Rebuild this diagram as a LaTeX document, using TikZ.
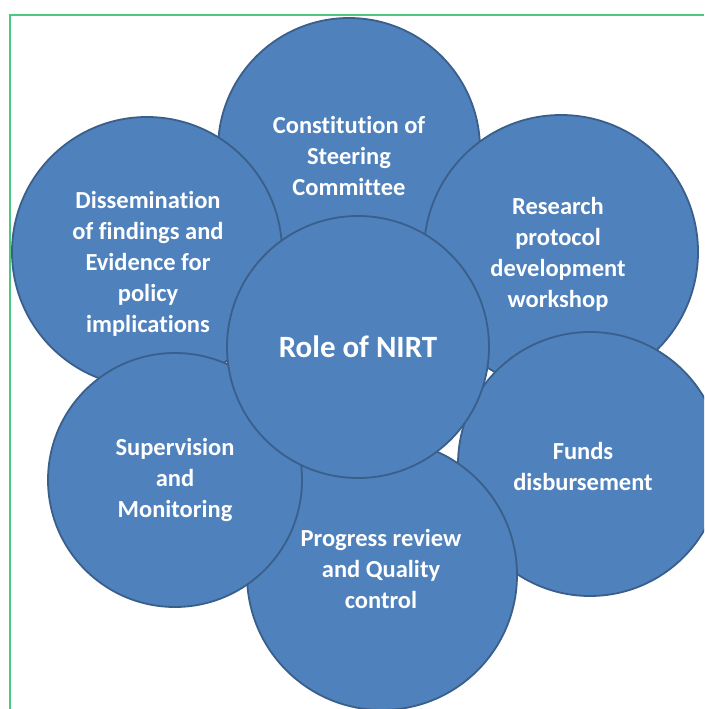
\documentclass[tikz,border=0pt]{standalone}
\usepackage{fontspec}
\setmainfont{Carlito}[Ligatures={NoCommon}]
\definecolor{fillblue}{HTML}{4F81BD}
\definecolor{edgeblue}{HTML}{3A5F8B}
\definecolor{framegreen}{HTML}{4CC880}
\tikzset{
  petal/.style={circle, draw=edgeblue, fill=fillblue, line width=1.8pt, inner sep=0pt, minimum size=#1},
  lbl/.style={text=white, font=\bfseries\fontsize{24.5}{31}\selectfont, align=center, inner sep=0pt},
  biglbl/.style={text=white, font=\bfseries\fontsize{31}{36}\selectfont, align=center, inner sep=0pt}
}
\begin{document}
\begin{tikzpicture}[x=1pt,y=-1pt]
\useasboundingbox (0,0) rectangle (704,709);
\begin{scope}
\clip (0,0) rectangle (704,709);
\coordinate (ftl) at (10,15);
\coordinate (ftr) at (704,15);
\coordinate (fbl) at (10,709);
\draw[framegreen, line width=1.5pt] (ftr) -- (ftl) -- (fbl);

\node[petal=262pt] (cons) at (349,149) {};
\node[lbl] (consT) at (349,156) {Constitution of\\Steering\\Committee};

\node[petal=270pt] (diss) at (147,252) {};
\node[lbl] (dissT) at (148,264) {Dissemination\\of findings and\\Evidence for\\policy\\implications};

\node[petal=274pt] (res) at (561,252) {};
\node[lbl] (resT) at (558,254) {Research\\protocol\\development\\workshop};

\node[petal=264pt] (fund) at (590,464) {};
\node[lbl] (fundT) at (583,466) {Funds\\disbursement};

\node[petal=270pt] (prog) at (382,575) {};
\node[lbl] (progT) at (381,569) {Progress review\\and Quality\\control};

\node[petal=254pt] (sup) at (175,480) {};
\node[lbl] (supT) at (175,480) {Supervision\\and\\Monitoring};

\node[petal=262pt] (role) at (358,347) {};
\node[biglbl] (roleT) at (358,347) {Role of NIRT};
\end{scope}
\end{tikzpicture}
\end{document}
